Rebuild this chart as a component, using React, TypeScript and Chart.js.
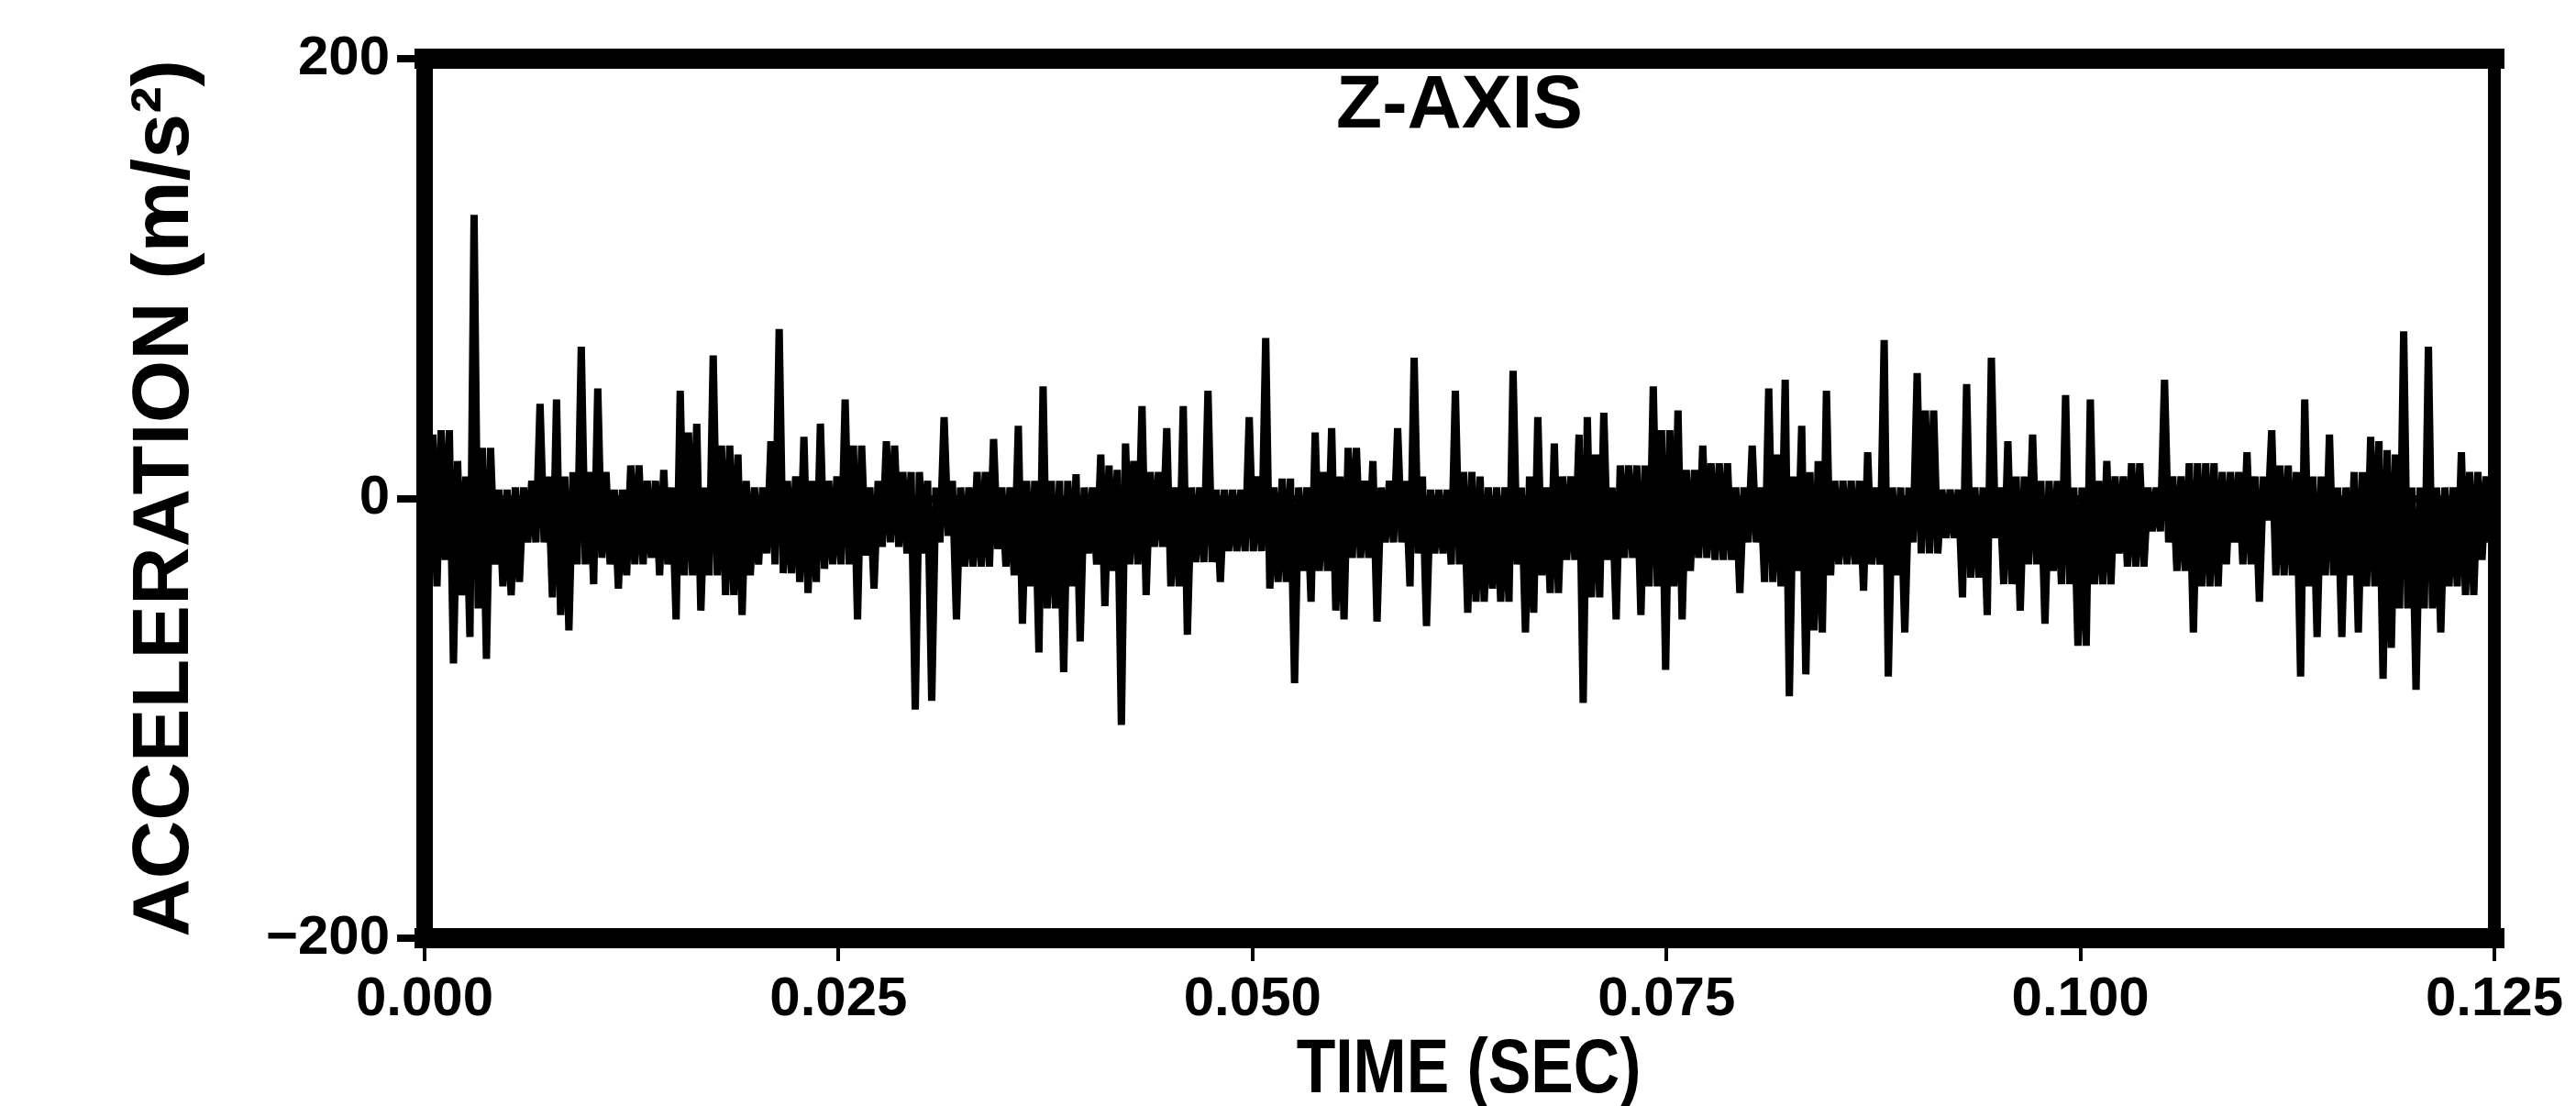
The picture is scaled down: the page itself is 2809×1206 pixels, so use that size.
import React, { useEffect, useRef } from "react";
import { Chart, registerables } from "chart.js";

Chart.register(...registerables);

// ---- data ----
const timeEnd = 0.125; // seconds
const sampleCount = 502;
const xTickValues = [0, 0.025, 0.05, 0.075, 0.1, 0.125];
const yTickValues = [-200, 0, 200];
const panelTitle = "Z-AXIS";
const xTitle = "TIME (SEC)";
const yTitle = "ACCELERATION (m/s\u00B2)";

// acceleration samples (m/s^2), alternating swings as traced from the record
const accel = [
  25, -35, 29, -40, 31, -28, 31, -75, 17, -44, 10, -63, 129, -50, 23, -73, 23, -30, 4, -40,
  4, -44, 5, -38, 5, -20, 8, -20, 43, -20, 10, -45, 45, -53, 10, -60, 12, -30, 69, -30,
  12, -39, 50, -27, 12, -30, 4, -41, 4, -35, 15, -30, 15, -30, 8, -27, 8, -35, 13, -30,
  5, -55, 49, -35, 30, -35, 34, -51, 5, -35, 65, -35, 24, -44, 24, -44, 20, -53, 8, -35,
  5, -30, 5, -25, 26, -30, 77, -34, 8, -34, 10, -38, 28, -43, 8, -38, 34, -32, 8, -30,
  10, -30, 45, -30, 24, -55, 24, -26, 5, -41, 8, -22, 26, -20, 24, -22, 12, -25, 12, -96,
  12, -25, 8, -92, 5, -20, 37, -17, 8, -55, 5, -31, 5, -31, 12, -31, 12, -31, 27, -23,
  5, -31, 5, -35, 33, -57, 8, -40, 8, -70, 51, -50, 8, -50, 8, -79, 8, -40, 11, -65,
  5, -25, 5, -30, 20, -49, 15, -33, 13, -103, 25, -30, 17, -30, 42, -44, 12, -22, 12, -22,
  32, -40, 5, -40, 42, -62, 5, -29, 5, -29, 49, -29, 4, -38, 4, -24, 4, -24, 4, -24,
  37, -24, 10, -24, 73, -41, 5, -38, 9, -38, 9, -84, 5, -33, 5, -47, 30, -33, 12, -33,
  32, -51, 10, -55, 23, -27, 23, -27, 8, -27, 17, -56, 5, -20, 8, -20, 32, -20, 8, -40,
  64, -25, 10, -58, 4, -25, 4, -25, 4, -30, 49, -30, 12, -52, 12, -47, 10, -47, 5, -41,
  5, -47, 5, -47, 58, -30, 5, -61, 10, -52, 37, -35, 5, -43, 25, -43, 10, -28, 10, -28,
  29, -93, 37, -45, 20, -45, 39, -28, 5, -55, 15, -27, 15, -27, 15, -53, 15, -40, 51, -40,
  31, -78, 31, -40, 40, -55, 13, -33, 13, -27, 24, -27, 16, -28, 16, -28, 16, -28, 5, -43,
  5, -20, 24, -20, 5, -38, 50, -38, 20, -40, 54, -90, 10, -33, 33, -80, 12, -60, 17, -61,
  49, -35, 8, -30, 8, -30, 8, -30, 8, -42, 21, -30, 5, -30, 72, -81, 5, -35, 5, -61,
  5, -20, 57, -25, 40, -25, 40, -25, 4, -18, 4, -18, 4, -45, 52, -36, 5, -36, 5, -53,
  64, -18, 5, -39, 26, -39, 10, -51, 10, -30, 29, -30, 8, -57, 8, -33, 8, -39, 47, -39,
  5, -67, 5, -67, 45, -39, 8, -39, 17, -39, 10, -25, 10, -31, 16, -31, 16, -31, 5, -15,
  5, -15, 54, -20, 10, -33, 10, -33, 16, -61, 16, -40, 16, -40, 16, -40, 12, -30, 12, -20,
  12, -30, 21, -30, 10, -47, 10, -10, 31, -35, 15, -35, 15, -35, 12, -81, 45, -40, 10, -63,
  10, -35, 29, -35, 5, -63, 5, -35, 12, -61, 12, -40, 28, -40, 26, -82, 22, -68, 20, -50,
  76, -50, 5, -87, 5, -50, 69, -50, 5, -61, 5, -40, 5, -40, 21, -44, 12, -44, 12, -28,
  10, -20,
];

const CANVAS_W = 2809;
const CANVAS_H = 1206;

const tickFont = { family: "'Liberation Sans', Arial, sans-serif", weight: "bold" as const, size: 60, lineHeight: 1.2 };

const framePlugin = {
  id: "frame",
  afterDatasetsDraw(chart: any) {
    const { ctx, chartArea } = chart;
    const { left, top, right, bottom } = chartArea;
    ctx.save();
    ctx.strokeStyle = "#000";
    ctx.lineCap = "square";
    const seg = (x1: number, y1: number, x2: number, y2: number, w: number) => {
      ctx.lineWidth = w;
      ctx.beginPath();
      ctx.moveTo(x1, y1);
      ctx.lineTo(x2, y2);
      ctx.stroke();
    };
    seg(left, top, right, top, 22);
    seg(left, bottom, right, bottom, 22);
    seg(left, top, left, bottom, 18);
    seg(right, top, right, bottom, 14);
    ctx.restore();
  },
};

const textPlugin = {
  id: "panelTexts",
  afterDraw(chart: any) {
    const { ctx, chartArea } = chart;
    const cx = (chartArea.left + chartArea.right) / 2;
    ctx.save();
    ctx.fillStyle = "#000";
    ctx.textAlign = "center";
    ctx.textBaseline = "middle";
    // panel title inside the frame
    ctx.font = "bold 82px 'Liberation Sans', Arial, sans-serif";
    ctx.fillText(panelTitle, cx, chartArea.top + 52);
    // x-axis title (condensed lettering)
    ctx.save();
    ctx.translate(cx + 10, 1168);
    ctx.scale(0.83, 1);
    ctx.font = "bold 84px 'Liberation Sans', Arial, sans-serif";
    ctx.fillText(xTitle, 0, 0);
    ctx.restore();
    ctx.restore();
  },
};

export default function App() {
  const canvasRef = useRef<HTMLCanvasElement | null>(null);

  useEffect(() => {
    const canvas = canvasRef.current;
    if (!canvas) return;
    const dt = timeEnd / sampleCount;
    const points = accel.map((v, i) => ({ x: i * dt, y: v }));

    const chart = new Chart(canvas, {
      type: "line",
      data: {
        datasets: [
          {
            data: points,
            borderColor: "#000",
            borderWidth: 8,
            borderJoinStyle: "bevel",
            borderCapStyle: "butt",
            pointRadius: 0,
            tension: 0,
            fill: false,
          },
        ],
      },
      options: {
        animation: false,
        responsive: false,
        maintainAspectRatio: false,
        parsing: false,
        layout: { padding: { left: 0, top: 64, right: 89, bottom: 0 } },
        plugins: {
          legend: { display: false },
          tooltip: { enabled: false },
          title: { display: false },
        },
        scales: {
          x: {
            type: "linear",
            min: 0,
            max: timeEnd,
            afterBuildTicks: (s: any) => {
              s.ticks = xTickValues.map((v) => ({ value: v }));
            },
            afterFit: (s: any) => {
              s.height = 183;
              s.paddingLeft = 0;
              s.paddingRight = 0;
            },
            ticks: {
              callback: (v: any) => Number(v).toFixed(3),
              color: "#000",
              font: tickFont,
              padding: 6,
              maxRotation: 0,
              autoSkip: false,
            },
            grid: {
              display: true,
              drawOnChartArea: false,
              drawTicks: true,
              tickLength: 25,
              color: "#000",
              lineWidth: 4,
            },
            border: { display: false },
            title: { display: false },
          },
          y: {
            type: "linear",
            min: -200,
            max: 200,
            afterBuildTicks: (s: any) => {
              s.ticks = yTickValues.map((v) => ({ value: v }));
            },
            afterFit: (s: any) => {
              s.width = 463;
              s.paddingTop = 0;
              s.paddingBottom = 0;
            },
            ticks: {
              callback: (v: any) => (Number(v) < 0 ? "\u2212" + Math.abs(Number(v)) : String(v)),
              color: "#000",
              font: tickFont,
              padding: 8,
            },
            grid: {
              display: true,
              drawOnChartArea: true,
              drawTicks: true,
              tickLength: 30,
              color: "#000",
              lineWidth: 8,
            },
            border: { display: false },
            title: {
              display: true,
              text: yTitle,
              color: "#000",
              font: { family: "'Liberation Sans', Arial, sans-serif", weight: "bold", size: 88, lineHeight: 1.2 },
              padding: { top: 128, bottom: 0 },
            },
          },
        },
      },
      plugins: [framePlugin, textPlugin],
    } as any);

    return () => {
      chart.destroy();
    };
  }, []);

  return (
    <div style={{ position: "absolute", left: 0, top: 0, width: CANVAS_W, height: CANVAS_H, background: "#fff" }}>
      <canvas ref={canvasRef} width={CANVAS_W} height={CANVAS_H} style={{ width: CANVAS_W, height: CANVAS_H, display: "block" }} />
    </div>
  );
}
